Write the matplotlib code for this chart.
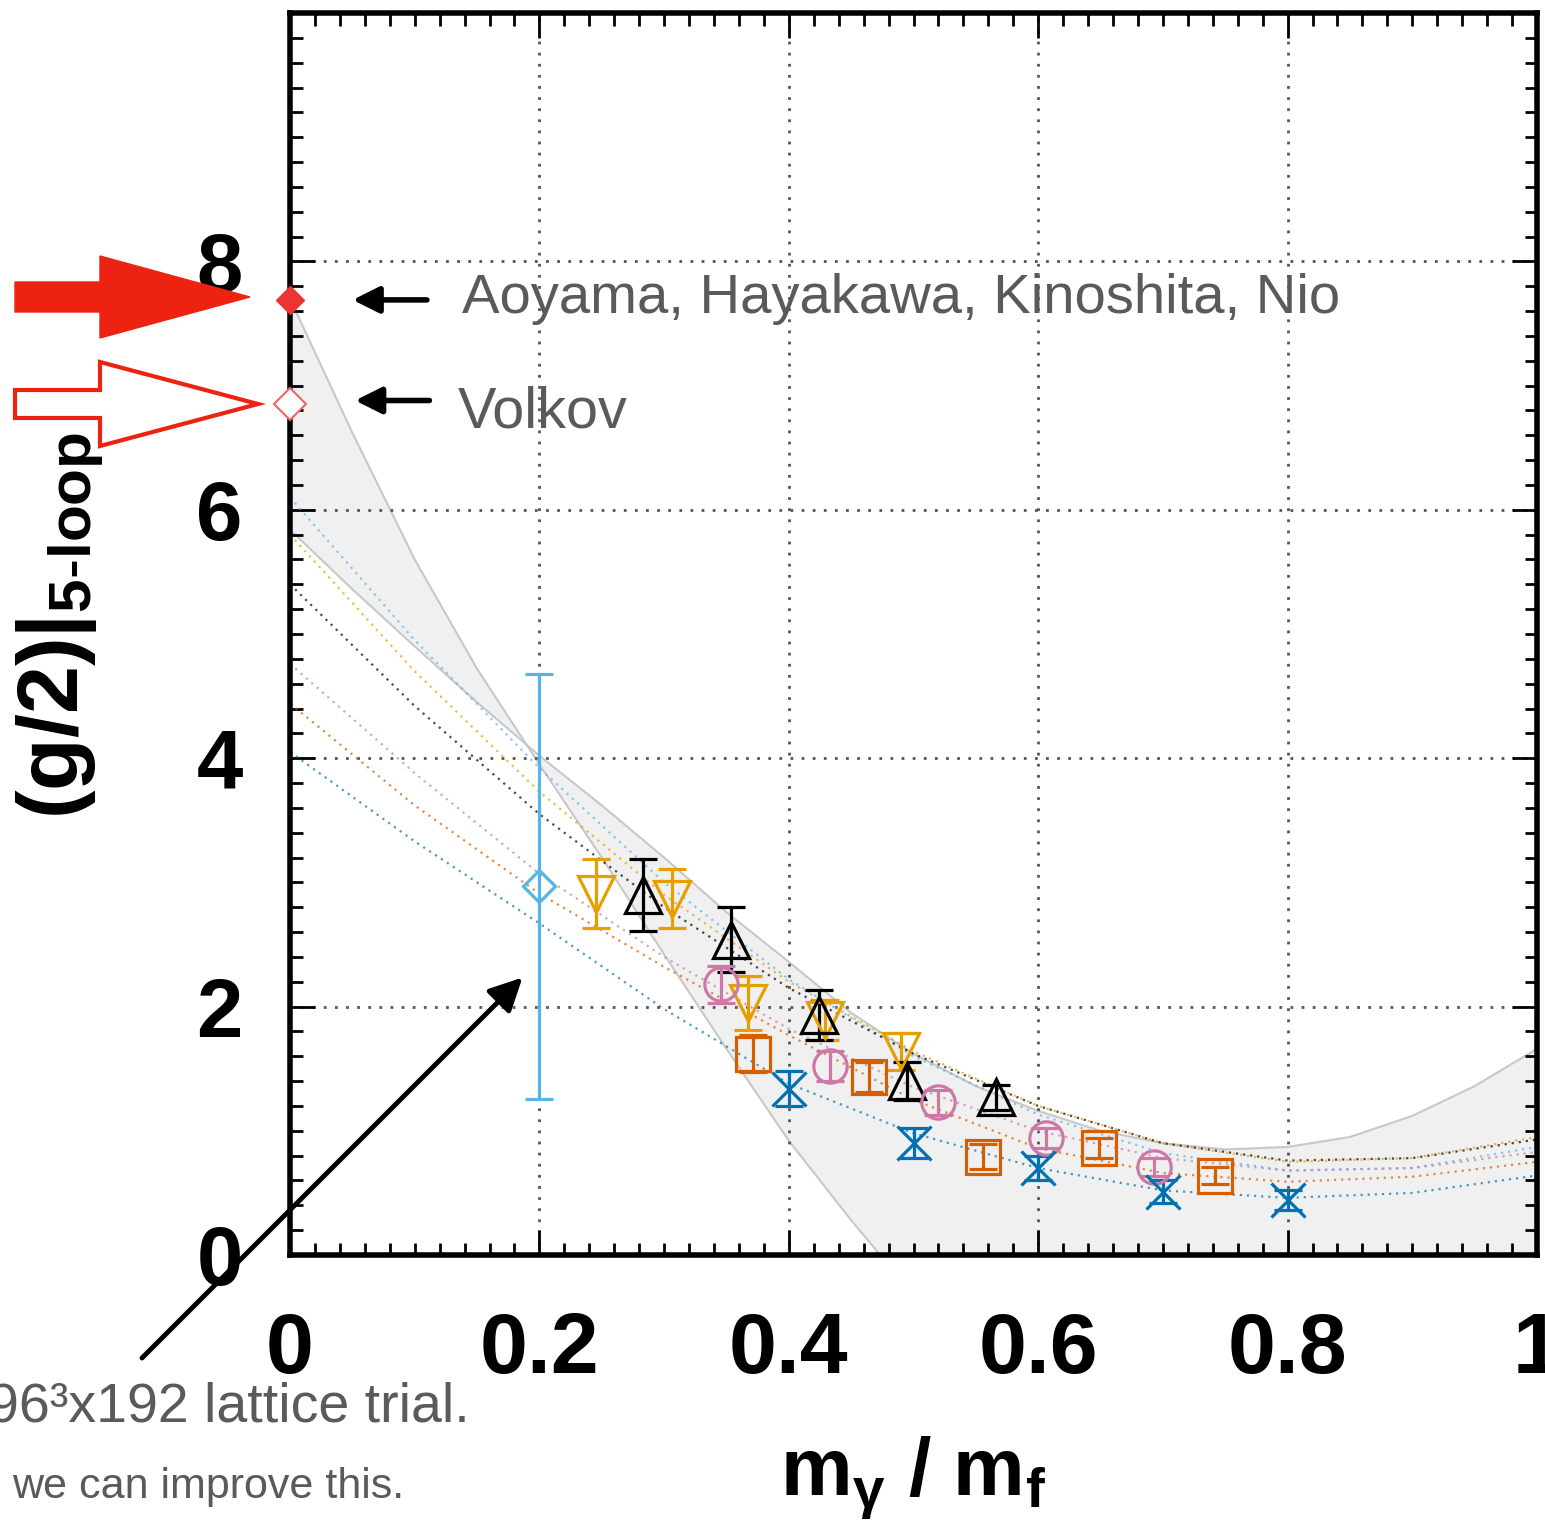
import matplotlib
matplotlib.use("Agg")
import matplotlib.pyplot as plt
import matplotlib.patches as mpatches
from matplotlib.transforms import IdentityTransform
from matplotlib.ticker import MultipleLocator

plt.rcParams["font.family"] = ["Liberation Sans", "DejaVu Sans"]
plt.rcParams["mathtext.fontset"] = "custom"
plt.rcParams["mathtext.rm"] = "Liberation Sans"
plt.rcParams["mathtext.bf"] = "Liberation Sans:bold"
plt.rcParams["mathtext.it"] = "Liberation Sans:italic"

# --- data ---
band_x = [0.0, 0.05, 0.1, 0.15, 0.2, 0.25, 0.3, 0.35, 0.4, 0.45, 0.5,
          0.55, 0.6, 0.65, 0.7, 0.75, 0.8, 0.85, 0.9, 0.95, 1.0]
band_a = [7.7, 6.62, 5.6, 4.72, 3.95, 3.2, 2.42, 1.66, 0.92, 0.28, -0.32,
          -0.88, -1.4, -1.9, -2.4, -2.85, -3.3, -3.7, -4.1, -4.5, -4.8]
band_b = [5.84, 5.36, 4.9, 4.45, 4.02, 3.62, 3.2, 2.76, 2.36, 1.95, 1.62,
          1.36, 1.16, 1.0, 0.9, 0.85, 0.87, 0.95, 1.12, 1.36, 1.66]

fit_x = [0.0, 0.1, 0.2, 0.3, 0.4, 0.5, 0.6, 0.7, 0.8, 0.9, 1.0]
fit_lightblue = [6.1, 4.95, 3.92, 3.0, 2.22, 1.6, 1.13, 0.82, 0.68, 0.7, 0.87]
fit_yellow = [5.8, 4.7, 3.73, 2.9, 2.2, 1.64, 1.2, 0.9, 0.75, 0.78, 0.95]
fit_black = [5.4, 4.42, 3.55, 2.8, 2.15, 1.62, 1.2, 0.9, 0.76, 0.78, 0.93]
fit_pink = [4.76, 3.88, 3.07, 2.4, 1.82, 1.35, 1.0, 0.78, 0.68, 0.7, 0.83]
fit_orange = [4.44, 3.62, 2.91, 2.32, 1.77, 1.25, 0.86, 0.66, 0.59, 0.63, 0.75]
fit_blue = [4.05, 3.33, 2.67, 1.98, 1.38, 0.98, 0.7, 0.52, 0.46, 0.5, 0.64]

lat_x, lat_y, lat_err = [0.2], [2.97], [1.71]

yel_x = [0.245, 0.306, 0.367, 0.429, 0.49]
yel_y = [2.91, 2.87, 2.03, 1.89, 1.64]
yel_err = [0.28, 0.24, 0.22, 0.16, 0.15]

blk_x = [0.283, 0.354, 0.424, 0.495, 0.566]
blk_y = [2.9, 2.54, 1.93, 1.40, 1.27]
blk_err = [0.29, 0.26, 0.2, 0.15, 0.1]

pink_x = [0.346, 0.433, 0.52, 0.606, 0.693]
pink_y = [2.18, 1.52, 1.23, 0.94, 0.71]
pink_err = [0.15, 0.12, 0.1, 0.08, 0.07]

sq_x = [0.371, 0.464, 0.556, 0.649, 0.742]
sq_y = [1.62, 1.43, 0.79, 0.86, 0.64]
sq_err = [0.15, 0.12, 0.1, 0.08, 0.07]

bx_x = [0.4, 0.5, 0.6, 0.7, 0.8]
bx_y = [1.34, 0.9, 0.7, 0.51, 0.44]
bx_err = [0.14, 0.12, 0.1, 0.09, 0.08]

aoyama = 7.69
volkov = 6.85

xticks = [0, 0.2, 0.4, 0.6, 0.8, 1.0]
xtick_labels = ["0", "0.2", "0.4", "0.6", "0.8", "1"]
yticks = [0, 2, 4, 6, 8]
ytick_labels = ["0", "2", "4", "6", "8"]

c_lb, c_yel, c_blk = "#56B4E9", "#E69F00", "#000000"
c_pink, c_or, c_blue = "#CC79A7", "#D55E00", "#0072B2"
gray_txt = "#5a5a5a"

W, H = 1545, 1522
fig = plt.figure(figsize=(W / 100, H / 100), dpi=100)
ax = fig.add_axes([290 / W, 1 - 1255 / H, (1537 - 290) / W, (1255 - 13) / H])

# band
ax.fill_between(band_x, band_a, band_b, color="#f0f0f0", zorder=0.5, lw=0)
ax.plot(band_x, band_a, color="#c8c8c8", lw=1.5, zorder=0.6)
ax.plot(band_x, band_b, color="#c8c8c8", lw=1.5, zorder=0.6)

# fit curves
for ys, c in [(fit_lightblue, c_lb), (fit_yellow, c_yel), (fit_black, c_blk),
              (fit_pink, c_pink), (fit_orange, c_or), (fit_blue, c_blue)]:
    ax.plot(fit_x, ys, color=c, lw=1.6, ls=(0, (1, 2.2)), alpha=0.7, zorder=2)

# data points
common = dict(ls="none", mfc="none", mew=2.3, elinewidth=2.3, capthick=2.3,
              capsize=10, zorder=4)
ax.errorbar(lat_x, lat_y, yerr=lat_err, marker="D", ms=16, color=c_lb, **common)
ax.errorbar(yel_x, yel_y, yerr=yel_err, marker="v", ms=26, color=c_yel, **common)
ax.errorbar(blk_x, blk_y, yerr=blk_err, marker="^", ms=26, color=c_blk, **common)
ax.errorbar(pink_x, pink_y, yerr=pink_err, marker="o", ms=24, color=c_pink, **common)
ax.errorbar(sq_x, sq_y, yerr=sq_err, marker="s", ms=24, color=c_or, **common)
ax.errorbar(bx_x, bx_y, yerr=bx_err, marker="x", ms=24, color=c_blue, **common)

ax.plot([0], [aoyama], marker="D", ms=14, color="#ee3333", clip_on=False, zorder=6)
ax.plot([0], [volkov], marker="D", ms=16, mfc="white", mec="#ee6666", mew=1.5,
        clip_on=False, zorder=6)

# axes styling
ax.set_xlim(0, 1)
ax.set_ylim(0, 10)
ax.set_xticks(xticks)
ax.set_xticklabels(xtick_labels, fontsize=62, fontweight="bold")
ax.set_yticks(yticks)
ax.set_yticklabels(ytick_labels, fontsize=60, fontweight="bold")
ax.xaxis.set_minor_locator(MultipleLocator(0.02))
ax.yaxis.set_minor_locator(MultipleLocator(0.2))
ax.tick_params(which="both", direction="in", top=True, right=True, width=2)
ax.tick_params(which="major", length=18)
ax.tick_params(which="minor", length=9)
ax.tick_params(axis="x", pad=40)
ax.tick_params(axis="y", pad=34)
for s in ax.spines.values():
    s.set_linewidth(4)
ax.grid(True, which="major", color="#555555", ls=(0, (1, 3)), lw=2)

ax.set_xlabel(r"$\mathbf{m_{\gamma}\ /\ m_{f}}$", fontsize=58, labelpad=32)
fig.text(60 / W, 1 - 625 / H, r"$\mathbf{(g/2)|_{5\text{-}loop}}$", fontsize=62,
         rotation=90, ha="center", va="center")

# annotations
ax.annotate("", xy=(0.048, aoyama), xytext=(0.112, aoyama),
            arrowprops=dict(arrowstyle="-|>", lw=4, color="k", mutation_scale=40))
ax.annotate("", xy=(0.05, volkov + 0.03), xytext=(0.114, volkov + 0.03),
            arrowprops=dict(arrowstyle="-|>", lw=4, color="k", mutation_scale=40))
fig.text(462 / W, 1 - 299 / H, "Aoyama, Hayakawa, Kinoshita, Nio",
         fontsize=40.5, color=gray_txt, va="center")
fig.text(458 / W, 1 - 412 / H, "Volkov", fontsize=41.5, color=gray_txt, va="center")

ax.annotate("", xy=(0.188, 2.25), xytext=(140, H - 1360), textcoords="figure pixels",
            arrowprops=dict(arrowstyle="-|>", lw=3.5, color="k", mutation_scale=50),
            annotation_clip=False)
fig.text(470 / W, 1 - 1408 / H, "96³x192 lattice trial.", fontsize=40,
         color=gray_txt, ha="right", va="center")
fig.text(12 / W, 1 - 1487 / H, "we can improve this.", fontsize=31,
         color=gray_txt, ha="left", va="center")

# big red arrows at left
arr1 = mpatches.FancyArrow(15, H - 297, 235, 0, width=30, head_width=82,
                           head_length=150, length_includes_head=True,
                           color="#ee2211", transform=IdentityTransform())
arr2 = mpatches.FancyArrow(15, H - 404, 243, 0, width=28, head_width=84,
                           head_length=158, length_includes_head=True,
                           facecolor="white", edgecolor="#ee2211", lw=3,
                           transform=IdentityTransform())
fig.patches.extend([arr1, arr2])

fig.savefig("out.png", dpi=100)
